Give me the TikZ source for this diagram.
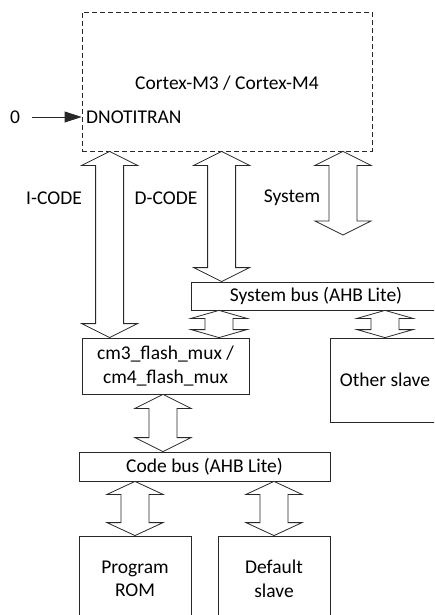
\documentclass[tikz,border=0pt]{standalone}
\usepackage{fontspec}
\setmainfont{Carlito}
\usepackage{tikz}
\usetikzlibrary{
  arrows.meta,
  calc,
  positioning
}
\definecolor{wireink}{RGB}{40,40,40}
\newcommand{\lbl}{\fontsize{19.5}{23.5}\selectfont}
\tikzset{
  blk/.style={draw=wireink,line width=0.8pt,inner sep=0pt,align=center,
    font=\lbl,text=black},
  core/.style={blk,dash pattern=on 5pt off 3pt},
  txt/.style={inner sep=0pt,font=\lbl,text=black},
  fatarrow/.style={draw=wireink,line width=0.8pt,fill=white,line join=miter},
  sigflow/.style={-{Triangle[length=17pt,width=11pt]},draw=wireink,line width=0.8pt}
}
% double-headed bus arrow: [head length]{top point}{bottom point}
\newcommand{\busarrow}[3][14pt]{%
  \draw[fatarrow] let \p1=#2, \p2=#3 in
    (\x1,\y1) -- (\x1+28pt,\y1-#1) -- (\x1+14pt,\y1-#1) -- (\x1+14pt,\y2+#1)
    -- (\x1+28pt,\y2+#1) -- (\x1,\y2) -- (\x1-28pt,\y2+#1) -- (\x1-14pt,\y2+#1)
    -- (\x1-14pt,\y1-#1) -- (\x1-28pt,\y1-#1) -- cycle;}

\begin{document}
\begin{tikzpicture}[x=1pt,y=-1pt]
  \useasboundingbox (0,0) rectangle (434,615);
  \clip (0,0) rectangle (434,615);

  \node[core,minimum width=290pt,minimum height=139pt] (core) at (227,81.5) {};
  \node[txt] (corename) at (227,83) {Cortex-M3 / Cortex-M4};
  \node[txt,anchor=west] (dnotitran) at (86,117) {DNOTITRAN};
  \node[txt] (zero) at (15,117) {0};
  \draw[sigflow] ([xshift=12pt]zero.east) -- (zero -| core.west);

  \node[blk,minimum width=250pt,minimum height=28pt] (sysbus) at (316,296) {System bus (AHB Lite)};
  \node[blk,minimum width=167pt,minimum height=56pt] (mux) at (165.5,366) {cm3\_flash\_mux /\\cm4\_flash\_mux};
  \node[blk,minimum width=110pt,minimum height=84pt] (other) at (385,380) {Other slave};
  \node[blk,minimum width=251pt,minimum height=29pt] (codebus) at (204.5,466.5) {Code bus (AHB Lite)};
  \node[blk,minimum width=112pt,minimum height=86pt] (rom) at (135,579) {Program\\ROM};
  \node[blk,minimum width=112pt,minimum height=86pt] (dflt) at (274,579) {Default\\slave};

  \coordinate (icode) at ($(mux.north west)+(28,0)$);
  \coordinate (dcode) at ($(sysbus.north west)+(31,0)$);
  \coordinate (sysend) at (343,235);

  \busarrow{(core.south -| icode)}{(icode)}
  \busarrow{(core.south -| dcode)}{(dcode)}
  \busarrow{(core.south -| sysend)}{(sysend)}
  \busarrow[8pt]{(sysbus.south -| 219,0)}{(mux.north -| 219,0)}
  \busarrow[8pt]{(sysbus.south -| other.north)}{(other.north)}
  \busarrow{(mux.south -| 163,0)}{(codebus.north -| 163,0)}
  \busarrow[13pt]{(codebus.south -| rom.north)}{(rom.north)}
  \busarrow[13pt]{(codebus.south -| dflt.north)}{(dflt.north)}

  \node[txt] (icodelbl) at (54,198) {I-CODE};
  \node[txt] (dcodelbl) at (166,198) {D-CODE};
  \node[txt] (syslbl) at (292,198) {System};
\end{tikzpicture}
\end{document}
